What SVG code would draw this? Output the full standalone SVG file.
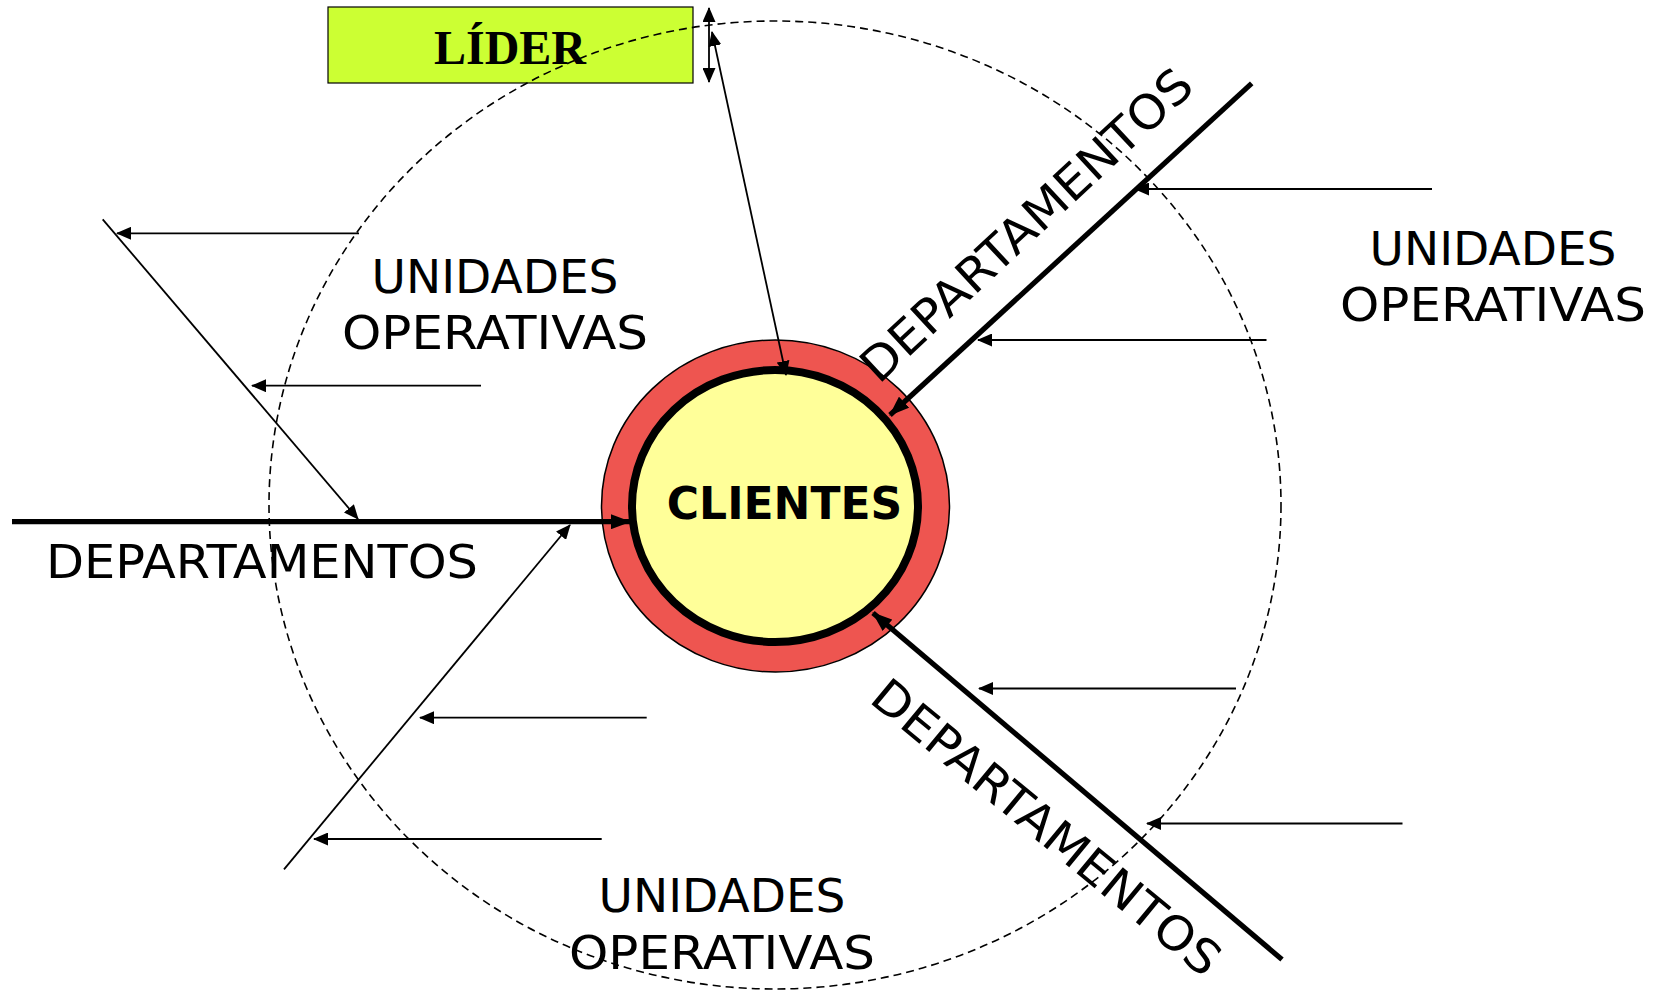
<svg xmlns="http://www.w3.org/2000/svg" width="1666" height="991" viewBox="0 0 1666 991">
<style>
.lbl{font-family:"DejaVu Sans","Noto Sans",sans-serif;font-size:47px;fill:#000}
.thin{stroke:#000;stroke-width:1.8;fill:none}
.thick{stroke:#000;stroke-width:5.2;fill:none}
</style>
<defs>
<marker id="ah" viewBox="0 0 15 13" refX="14" refY="6.5" markerWidth="15" markerHeight="13" markerUnits="userSpaceOnUse" orient="auto-start-reverse"><path d="M0,0 L15,6.5 L0,13 z" fill="#000"/></marker>
<marker id="ahb" viewBox="0 0 20 15" refX="19" refY="7.5" markerWidth="20" markerHeight="15" markerUnits="userSpaceOnUse" orient="auto"><path d="M0,0 L20,7.5 L0,15 z" fill="#000"/></marker>
</defs>
<rect width="1666" height="991" fill="#fff"/>
<g id="lider">
<rect x="328" y="7" width="365" height="76" fill="#CCFF33" stroke="#000" stroke-width="1.2"/>
<text x="510" y="64" text-anchor="middle" font-family="Liberation Serif, serif" font-weight="bold" font-size="48">LÍDER</text>
</g>
<g id="clientes">
<ellipse cx="775.5" cy="506" rx="174" ry="166" fill="#EE5550" stroke="#000" stroke-width="1.5"/>
<ellipse cx="775" cy="506" rx="143" ry="136" fill="#FFFF99" stroke="#000" stroke-width="8"/>
<text x="784.5" y="519" text-anchor="middle" font-family="DejaVu Sans, sans-serif" font-weight="bold" font-size="44">CLIENTES</text>
</g>
<g id="uo-left"><text class="lbl" text-anchor="middle"><tspan x="495" y="293" textLength="247" lengthAdjust="spacingAndGlyphs">UNIDADES</tspan><tspan x="495" y="349" textLength="306" lengthAdjust="spacingAndGlyphs">OPERATIVAS</tspan></text></g>
<g id="uo-right"><text class="lbl" text-anchor="middle"><tspan x="1493" y="265" textLength="247" lengthAdjust="spacingAndGlyphs">UNIDADES</tspan><tspan x="1493" y="321" textLength="306" lengthAdjust="spacingAndGlyphs">OPERATIVAS</tspan></text></g>
<g id="uo-bottom"><text class="lbl" text-anchor="middle"><tspan x="722" y="912" textLength="247" lengthAdjust="spacingAndGlyphs">UNIDADES</tspan><tspan x="722" y="969" textLength="306" lengthAdjust="spacingAndGlyphs">OPERATIVAS</tspan></text></g>
<g id="dep-left"><text class="lbl" x="46" y="578" textLength="432" lengthAdjust="spacingAndGlyphs">DEPARTAMENTOS</text></g>
<g id="dep-upper"><text class="lbl" text-anchor="middle" textLength="434" lengthAdjust="spacingAndGlyphs" transform="translate(1037.5,237) rotate(-43)">DEPARTAMENTOS</text></g>
<g id="dep-lower"><text class="lbl" text-anchor="middle" textLength="436" lengthAdjust="spacingAndGlyphs" transform="translate(1036,840) rotate(39.5)">DEPARTAMENTOS</text></g>
<g id="connectors">
<line class="thick" x1="12" y1="521.7" x2="630" y2="521.7" marker-end="url(#ahb)"/>
<line class="thick" x1="1251.7" y1="83.3" x2="890" y2="415" marker-end="url(#ahb)"/>
<line class="thick" x1="1282" y1="959.5" x2="873" y2="613" marker-end="url(#ahb)"/>
<line class="thin" x1="102.7" y1="219.3" x2="358" y2="519" marker-end="url(#ah)"/>
<line class="thin" x1="284" y1="869.3" x2="570" y2="525" marker-end="url(#ah)"/>
<line class="thin" x1="359" y1="233.3" x2="117" y2="233.3" marker-end="url(#ah)"/>
<line class="thin" x1="481" y1="385.7" x2="252" y2="385.7" marker-end="url(#ah)"/>
<line class="thin" x1="646.7" y1="717.7" x2="420" y2="717.7" marker-end="url(#ah)"/>
<line class="thin" x1="601.7" y1="839" x2="314" y2="839" marker-end="url(#ah)"/>
<line class="thin" x1="1432" y1="189" x2="1135" y2="189" marker-end="url(#ah)"/>
<line class="thin" x1="1266.5" y1="340" x2="978" y2="340" marker-end="url(#ah)"/>
<line class="thin" x1="1236" y1="688.5" x2="979" y2="688.5" marker-end="url(#ah)"/>
<line class="thin" x1="1402.5" y1="823.5" x2="1147" y2="823.5" marker-end="url(#ah)"/>
<line class="thin" x1="709" y1="8" x2="709" y2="82" marker-start="url(#ah)" marker-end="url(#ah)"/>
<line class="thin" x1="712" y1="32" x2="786" y2="375" marker-start="url(#ah)" marker-end="url(#ah)"/>
</g>
<ellipse id="boundary" cx="775" cy="505" rx="506" ry="484" fill="none" stroke="#000" stroke-width="1.6" stroke-dasharray="8 5"/>
</svg>
